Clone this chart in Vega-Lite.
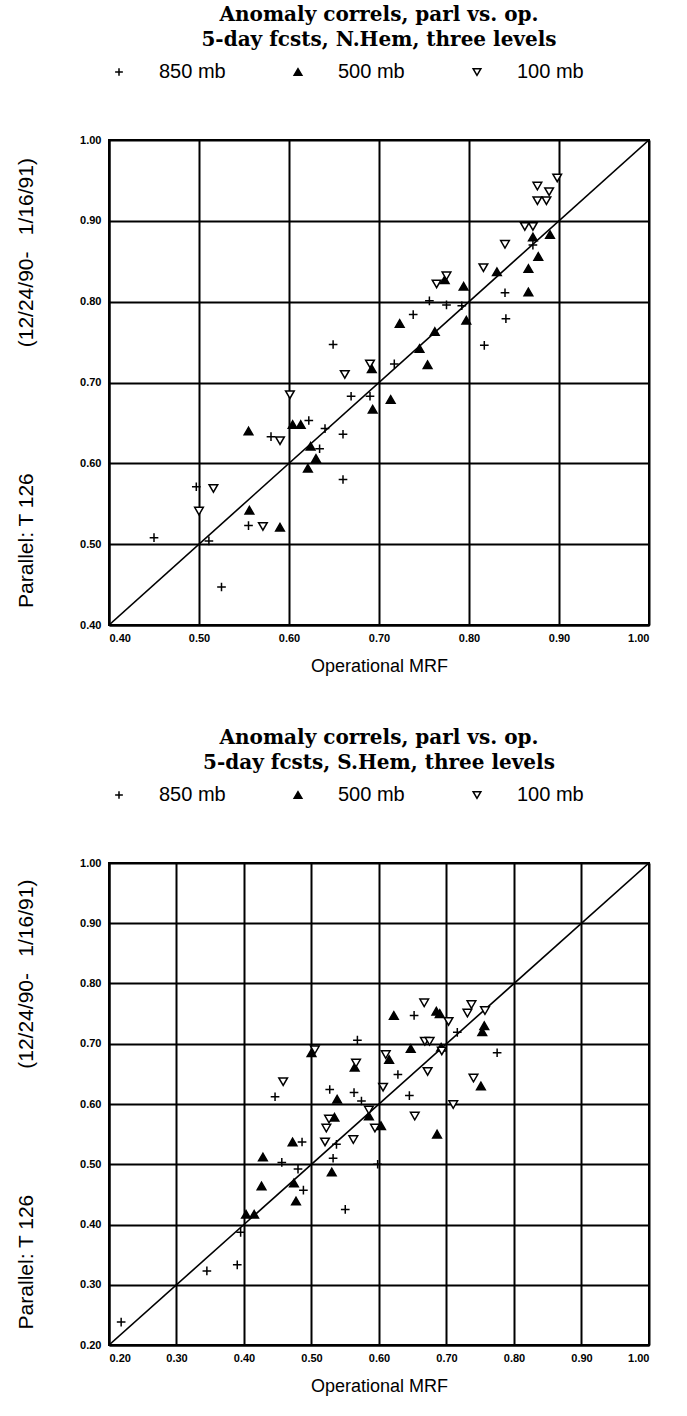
{
  "$schema": "https://vega.github.io/schema/vega-lite/v6.json",
  "padding": {"left": 14, "top": 4, "right": 10, "bottom": 5},
  "background": "white",
  "spacing": 51,
  "config": {
    "view": {"stroke": "black", "strokeWidth": 2},
    "axis": {
      "grid": true, "gridColor": "black", "gridWidth": 2, "gridOpacity": 1,
      "domainColor": "black", "domainWidth": 2, "ticks": false,
      "labelFont": "Liberation Sans", "labelFontWeight": "bold", "labelFontSize": 11, "labelColor": "black",
      "titleFont": "Liberation Sans", "titleFontWeight": "normal", "titleFontSize": 18, "titleColor": "black",
      "format": ".2f"
    },
    "axisX": {"labelPadding": 7, "titlePadding": 14},
    "axisY": {"labelPadding": 8, "titlePadding": 43, "titleFontSize": 21},
    "title": {"font": "DejaVu Serif", "fontWeight": "bold", "fontSize": 20, "lineHeight": 25, "color": "black", "anchor": "middle", "offset": 12},
    "legend": {
      "labelFont": "Liberation Sans", "labelFontSize": 20, "labelColor": "black",
      "symbolStrokeColor": "black", "symbolStrokeWidth": 1.5, "symbolSize": 60,
      "columnPadding": 62, "labelOffset": 30, "symbolOpacity": 1, "offset": 58, "padding": 0
    }
  },
  "vconcat": [
    {
      "title": {"text": ["Anomaly correls, parl vs. op.", "5-day fcsts, N.Hem, three levels"]},
      "width": 540,
      "height": 485,
      "layer": [
        {
          "data": {"values": [{"op": 0.4, "par": 0.4}, {"op": 1.0, "par": 1.0}]},
          "mark": {"type": "line", "color": "black", "strokeWidth": 1.6, "clip": true},
          "encoding": {
            "x": {"field": "op", "type": "quantitative", "scale": {"domain": [0.4, 1.0]}},
            "y": {"field": "par", "type": "quantitative", "scale": {"domain": [0.4, 1.0]}}
          }
        },
        {
          "data": {"values": [
            {"level": "850 mb", "op": 0.45, "par": 0.508},
            {"level": "850 mb", "op": 0.511, "par": 0.504},
            {"level": "850 mb", "op": 0.525, "par": 0.447},
            {"level": "850 mb", "op": 0.497, "par": 0.571},
            {"level": "850 mb", "op": 0.555, "par": 0.523},
            {"level": "850 mb", "op": 0.58, "par": 0.633},
            {"level": "850 mb", "op": 0.622, "par": 0.653},
            {"level": "850 mb", "op": 0.64, "par": 0.643},
            {"level": "850 mb", "op": 0.634, "par": 0.618},
            {"level": "850 mb", "op": 0.66, "par": 0.58},
            {"level": "850 mb", "op": 0.66, "par": 0.636},
            {"level": "850 mb", "op": 0.669, "par": 0.683},
            {"level": "850 mb", "op": 0.69, "par": 0.683},
            {"level": "850 mb", "op": 0.649, "par": 0.747},
            {"level": "850 mb", "op": 0.717, "par": 0.723},
            {"level": "850 mb", "op": 0.738, "par": 0.784},
            {"level": "850 mb", "op": 0.756, "par": 0.801},
            {"level": "850 mb", "op": 0.775, "par": 0.796},
            {"level": "850 mb", "op": 0.792, "par": 0.795},
            {"level": "850 mb", "op": 0.84, "par": 0.811},
            {"level": "850 mb", "op": 0.841, "par": 0.779},
            {"level": "850 mb", "op": 0.817, "par": 0.746},
            {"level": "850 mb", "op": 0.871, "par": 0.87},
            {"level": "500 mb", "op": 0.556, "par": 0.542},
            {"level": "500 mb", "op": 0.59, "par": 0.521},
            {"level": "500 mb", "op": 0.555, "par": 0.64},
            {"level": "500 mb", "op": 0.604, "par": 0.648},
            {"level": "500 mb", "op": 0.613, "par": 0.648},
            {"level": "500 mb", "op": 0.624, "par": 0.621},
            {"level": "500 mb", "op": 0.63, "par": 0.606},
            {"level": "500 mb", "op": 0.621, "par": 0.594},
            {"level": "500 mb", "op": 0.693, "par": 0.667},
            {"level": "500 mb", "op": 0.713, "par": 0.679},
            {"level": "500 mb", "op": 0.692, "par": 0.717},
            {"level": "500 mb", "op": 0.723, "par": 0.773},
            {"level": "500 mb", "op": 0.745, "par": 0.742},
            {"level": "500 mb", "op": 0.754, "par": 0.722},
            {"level": "500 mb", "op": 0.762, "par": 0.763},
            {"level": "500 mb", "op": 0.797, "par": 0.777},
            {"level": "500 mb", "op": 0.794, "par": 0.819},
            {"level": "500 mb", "op": 0.773, "par": 0.827},
            {"level": "500 mb", "op": 0.831, "par": 0.837},
            {"level": "500 mb", "op": 0.866, "par": 0.812},
            {"level": "500 mb", "op": 0.866, "par": 0.841},
            {"level": "500 mb", "op": 0.877, "par": 0.856},
            {"level": "500 mb", "op": 0.871, "par": 0.88},
            {"level": "500 mb", "op": 0.89, "par": 0.883},
            {"level": "100 mb", "op": 0.5, "par": 0.541},
            {"level": "100 mb", "op": 0.516, "par": 0.569},
            {"level": "100 mb", "op": 0.571, "par": 0.522},
            {"level": "100 mb", "op": 0.59, "par": 0.628},
            {"level": "100 mb", "op": 0.601, "par": 0.685},
            {"level": "100 mb", "op": 0.662, "par": 0.71},
            {"level": "100 mb", "op": 0.69, "par": 0.723},
            {"level": "100 mb", "op": 0.764, "par": 0.822},
            {"level": "100 mb", "op": 0.775, "par": 0.832},
            {"level": "100 mb", "op": 0.816, "par": 0.842},
            {"level": "100 mb", "op": 0.84, "par": 0.871},
            {"level": "100 mb", "op": 0.862, "par": 0.893},
            {"level": "100 mb", "op": 0.871, "par": 0.893},
            {"level": "100 mb", "op": 0.876, "par": 0.925},
            {"level": "100 mb", "op": 0.886, "par": 0.925},
            {"level": "100 mb", "op": 0.889, "par": 0.936},
            {"level": "100 mb", "op": 0.876, "par": 0.943},
            {"level": "100 mb", "op": 0.898, "par": 0.953}
          ]},
          "mark": {"type": "point", "filled": true, "stroke": "black", "strokeWidth": 1.5, "opacity": 1, "size": 75},
          "encoding": {
            "x": {"field": "op", "type": "quantitative", "scale": {"domain": [0.4, 1.0]}, "axis": {"values": [0.4, 0.5, 0.6, 0.7, 0.8, 0.9, 1.0], "title": "Operational MRF"}},
            "y": {"field": "par", "type": "quantitative", "scale": {"domain": [0.4, 1.0]}, "axis": {"values": [0.4, 0.5, 0.6, 0.7, 0.8, 0.9, 1.0], "title": "Parallel:  T  126\u2003\u2003\u2003\u2003\u2003\u2003(12/24/90-\u2002 1/16/91)"}},
            "shape": {"field": "level", "type": "nominal", "scale": {"domain": ["850 mb", "500 mb", "100 mb"], "range": ["M-1,0H1M0,-1V1", "triangle-up", "triangle-down"]}, "legend": {"title": null, "orient": "top", "direction": "horizontal", "symbolStrokeColor": "black", "encode": {"symbols": {"update": {"stroke": {"value": "black"}, "strokeWidth": {"value": 1.5}}}}}},
            "fill": {"field": "level", "type": "nominal", "scale": {"domain": ["850 mb", "500 mb", "100 mb"], "range": ["white", "black", "white"]}, "legend": {"title": null, "orient": "top", "direction": "horizontal", "symbolStrokeColor": "black", "encode": {"symbols": {"update": {"stroke": {"value": "black"}, "strokeWidth": {"value": 1.5}}}}}}
          }
        }
      ]
    },
    {
      "title": {"text": ["Anomaly correls, parl vs. op.", "5-day fcsts, S.Hem, three levels"]},
      "width": 540,
      "height": 482,
      "layer": [
        {
          "data": {"values": [{"op": 0.2, "par": 0.2}, {"op": 1.0, "par": 1.0}]},
          "mark": {"type": "line", "color": "black", "strokeWidth": 1.6, "clip": true},
          "encoding": {
            "x": {"field": "op", "type": "quantitative", "scale": {"domain": [0.2, 1.0]}},
            "y": {"field": "par", "type": "quantitative", "scale": {"domain": [0.2, 1.0]}}
          }
        },
        {
          "data": {"values": [
            {"level": "850 mb", "op": 0.218, "par": 0.238},
            {"level": "850 mb", "op": 0.345, "par": 0.323},
            {"level": "850 mb", "op": 0.39, "par": 0.333},
            {"level": "850 mb", "op": 0.395, "par": 0.387},
            {"level": "850 mb", "op": 0.456, "par": 0.503},
            {"level": "850 mb", "op": 0.48, "par": 0.492},
            {"level": "850 mb", "op": 0.488, "par": 0.457},
            {"level": "850 mb", "op": 0.486, "par": 0.537},
            {"level": "850 mb", "op": 0.55, "par": 0.425},
            {"level": "850 mb", "op": 0.532, "par": 0.51},
            {"level": "850 mb", "op": 0.537, "par": 0.533},
            {"level": "850 mb", "op": 0.598, "par": 0.5},
            {"level": "850 mb", "op": 0.446, "par": 0.612},
            {"level": "850 mb", "op": 0.527, "par": 0.624},
            {"level": "850 mb", "op": 0.563, "par": 0.619},
            {"level": "850 mb", "op": 0.574, "par": 0.605},
            {"level": "850 mb", "op": 0.568, "par": 0.706},
            {"level": "850 mb", "op": 0.645, "par": 0.614},
            {"level": "850 mb", "op": 0.628, "par": 0.649},
            {"level": "850 mb", "op": 0.652, "par": 0.747},
            {"level": "850 mb", "op": 0.716, "par": 0.719},
            {"level": "850 mb", "op": 0.775, "par": 0.685},
            {"level": "500 mb", "op": 0.403, "par": 0.417},
            {"level": "500 mb", "op": 0.415, "par": 0.417},
            {"level": "500 mb", "op": 0.426, "par": 0.464},
            {"level": "500 mb", "op": 0.428, "par": 0.512},
            {"level": "500 mb", "op": 0.474, "par": 0.469},
            {"level": "500 mb", "op": 0.477, "par": 0.439},
            {"level": "500 mb", "op": 0.472, "par": 0.537},
            {"level": "500 mb", "op": 0.53, "par": 0.487},
            {"level": "500 mb", "op": 0.534, "par": 0.578},
            {"level": "500 mb", "op": 0.538, "par": 0.608},
            {"level": "500 mb", "op": 0.585, "par": 0.58},
            {"level": "500 mb", "op": 0.603, "par": 0.564},
            {"level": "500 mb", "op": 0.5, "par": 0.685},
            {"level": "500 mb", "op": 0.564, "par": 0.661},
            {"level": "500 mb", "op": 0.615, "par": 0.674},
            {"level": "500 mb", "op": 0.622, "par": 0.747},
            {"level": "500 mb", "op": 0.647, "par": 0.692},
            {"level": "500 mb", "op": 0.685, "par": 0.754},
            {"level": "500 mb", "op": 0.69, "par": 0.75},
            {"level": "500 mb", "op": 0.692, "par": 0.694},
            {"level": "500 mb", "op": 0.686, "par": 0.55},
            {"level": "500 mb", "op": 0.751, "par": 0.63},
            {"level": "500 mb", "op": 0.756, "par": 0.73},
            {"level": "500 mb", "op": 0.753, "par": 0.72},
            {"level": "100 mb", "op": 0.458, "par": 0.637},
            {"level": "100 mb", "op": 0.522, "par": 0.56},
            {"level": "100 mb", "op": 0.52, "par": 0.537},
            {"level": "100 mb", "op": 0.526, "par": 0.575},
            {"level": "100 mb", "op": 0.562, "par": 0.541},
            {"level": "100 mb", "op": 0.585, "par": 0.59},
            {"level": "100 mb", "op": 0.594, "par": 0.56},
            {"level": "100 mb", "op": 0.505, "par": 0.69},
            {"level": "100 mb", "op": 0.566, "par": 0.668},
            {"level": "100 mb", "op": 0.61, "par": 0.682},
            {"level": "100 mb", "op": 0.606, "par": 0.628},
            {"level": "100 mb", "op": 0.667, "par": 0.768},
            {"level": "100 mb", "op": 0.703, "par": 0.737},
            {"level": "100 mb", "op": 0.737, "par": 0.765},
            {"level": "100 mb", "op": 0.731, "par": 0.751},
            {"level": "100 mb", "op": 0.757, "par": 0.755},
            {"level": "100 mb", "op": 0.668, "par": 0.704},
            {"level": "100 mb", "op": 0.675, "par": 0.704},
            {"level": "100 mb", "op": 0.693, "par": 0.688},
            {"level": "100 mb", "op": 0.672, "par": 0.654},
            {"level": "100 mb", "op": 0.74, "par": 0.643},
            {"level": "100 mb", "op": 0.71, "par": 0.599},
            {"level": "100 mb", "op": 0.653, "par": 0.58}
          ]},
          "mark": {"type": "point", "filled": true, "stroke": "black", "strokeWidth": 1.5, "opacity": 1, "size": 75},
          "encoding": {
            "x": {"field": "op", "type": "quantitative", "scale": {"domain": [0.2, 1.0]}, "axis": {"values": [0.2, 0.3, 0.4, 0.5, 0.6, 0.7, 0.8, 0.9, 1.0], "title": "Operational MRF"}},
            "y": {"field": "par", "type": "quantitative", "scale": {"domain": [0.2, 1.0]}, "axis": {"values": [0.2, 0.3, 0.4, 0.5, 0.6, 0.7, 0.8, 0.9, 1.0], "title": "Parallel:  T  126\u2003\u2003\u2003\u2003\u2003\u2003(12/24/90-\u2002 1/16/91)"}},
            "shape": {"field": "level", "type": "nominal", "scale": {"domain": ["850 mb", "500 mb", "100 mb"], "range": ["M-1,0H1M0,-1V1", "triangle-up", "triangle-down"]}, "legend": {"title": null, "orient": "top", "direction": "horizontal", "symbolStrokeColor": "black", "encode": {"symbols": {"update": {"stroke": {"value": "black"}, "strokeWidth": {"value": 1.5}}}}}},
            "fill": {"field": "level", "type": "nominal", "scale": {"domain": ["850 mb", "500 mb", "100 mb"], "range": ["white", "black", "white"]}, "legend": {"title": null, "orient": "top", "direction": "horizontal", "symbolStrokeColor": "black", "encode": {"symbols": {"update": {"stroke": {"value": "black"}, "strokeWidth": {"value": 1.5}}}}}}
          }
        }
      ]
    }
  ],
  "resolve": {"scale": {"x": "independent", "y": "independent", "shape": "independent", "fill": "independent"}, "legend": {"shape": "independent", "fill": "independent"}}
}
